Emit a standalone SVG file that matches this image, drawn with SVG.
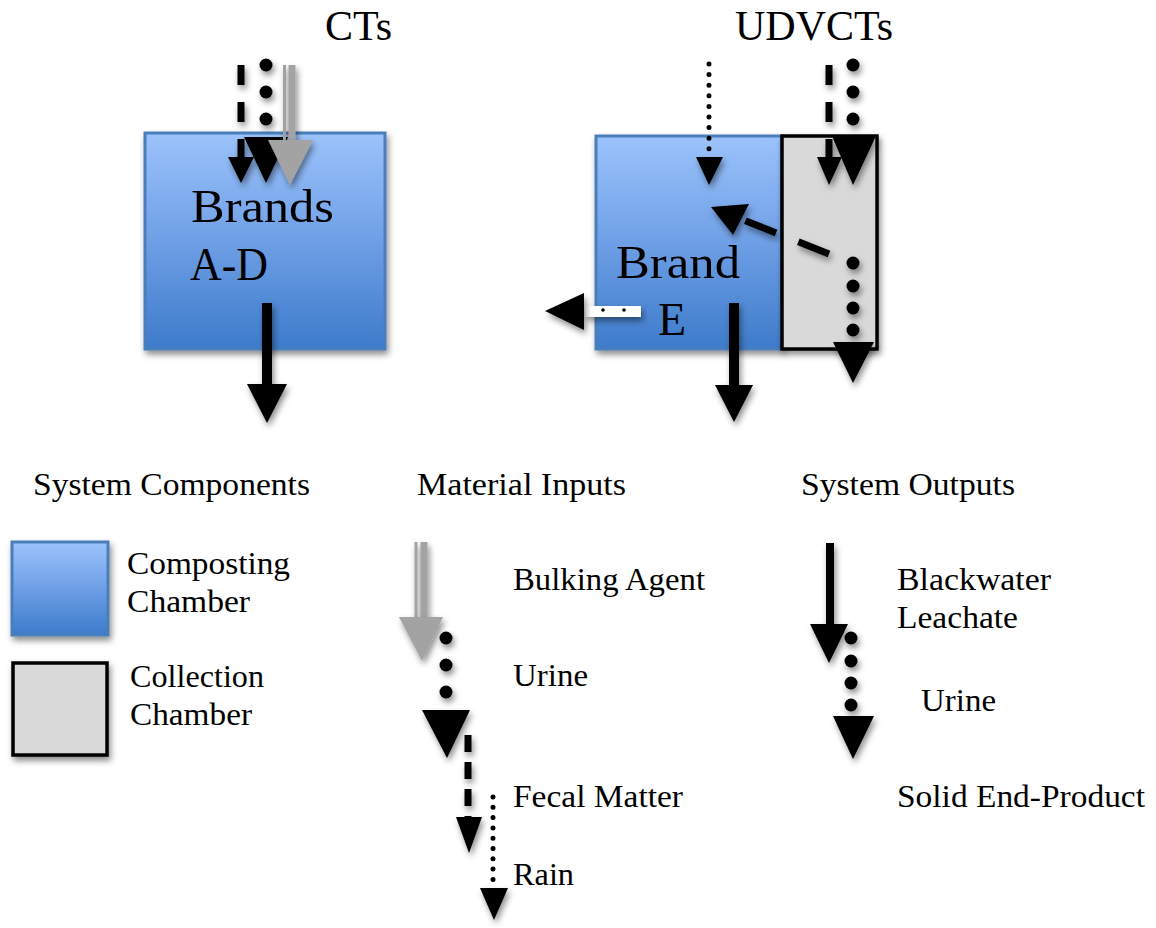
<svg xmlns="http://www.w3.org/2000/svg" width="1156" height="928" viewBox="0 0 1156 928">
<defs>
  <linearGradient id="blueGrad" x1="0" y1="0" x2="0" y2="1">
    <stop offset="0" stop-color="#9cc3fb"/>
    <stop offset="0.5" stop-color="#6e9fe6"/>
    <stop offset="1" stop-color="#3d7bca"/>
  </linearGradient>
  <filter id="shadow" filterUnits="userSpaceOnUse" x="0" y="0" width="1156" height="928">
    <feDropShadow dx="2" dy="4" stdDeviation="3" flood-color="#000" flood-opacity="0.45"/>
  </filter>
</defs>
<style>
  .title { font-family: "Liberation Serif", "Times New Roman", serif; font-size: 42px; fill: #000; }
  .big { font-family: "Liberation Serif", "Times New Roman", serif; font-size: 46px; fill: #000; }
  .lbl { font-family: "Liberation Serif", "Times New Roman", serif; font-size: 32px; fill: #000; }
  .comp { fill: url(#blueGrad); stroke: #4a7ebb; stroke-width: 3; filter: url(#shadow); }
  .coll { fill: #d9d9d9; stroke: #000; stroke-width: 3.5; filter: url(#shadow); }
  .head { fill: #000; filter: url(#shadow); }
  .ghead { fill: #a3a3a3; filter: url(#shadow); }
  .dash { stroke: #000; stroke-width: 7; fill: none; filter: url(#shadow); }
  .sdot { stroke: #000; stroke-width: 5; stroke-linecap: round; fill: none; }
  .dot { fill: #000; filter: url(#shadow); }
  .shaft { fill: #000; filter: url(#shadow); }
  .gline { stroke: #a3a3a3; fill: none; filter: url(#shadow); }
</style>

<text class="title" x="325" y="40">CTs</text>
<text class="title" x="735" y="40">UDVCTs</text>

<g id="node-ct">
  <rect class="comp" x="145" y="133" width="240" height="216"/>
  <text class="big" x="191" y="222" textLength="143" lengthAdjust="spacingAndGlyphs">Brands</text>
  <text class="big" x="190" y="280" textLength="78" lengthAdjust="spacingAndGlyphs">A-D</text>
</g>

<g id="node-udvct-compost">
  <rect class="comp" x="596" y="136" width="186" height="213"/>
  <text class="big" x="616" y="278" textLength="124" lengthAdjust="spacingAndGlyphs">Brand</text>
  <text class="big" x="658" y="335">E</text>
</g>

<g id="node-udvct-collect">
  <rect class="coll" x="782" y="136" width="95" height="213"/>
</g>

<g id="connectors">
  <!-- CT: fecal matter (dashed) -->
  <line class="dash" x1="241" y1="65" x2="241" y2="159" stroke-dasharray="20 17"/>
  <polygon class="head" points="228,157 254,157 241,183"/>
  <!-- CT: urine (big dots) -->
  <circle class="dot" cx="266" cy="65" r="6.5"/>
  <circle class="dot" cx="266" cy="92" r="6.5"/>
  <circle class="dot" cx="266" cy="119" r="6.5"/>
  <polygon class="head" points="244,137 288,137 266,183"/>
  <!-- CT: bulking agent (gray) -->
  <line class="gline" x1="284.5" y1="65" x2="284.5" y2="141" stroke-width="3"/>
  <line class="gline" x1="292" y1="65" x2="292" y2="141" stroke-width="7"/>
  <polygon class="ghead" points="268,140 313,140 290,185"/>
  <!-- CT: output -->
  <rect class="shaft" x="262" y="303" width="10" height="82"/>
  <polygon class="head" points="247,384 287,384 267,423"/>

  <!-- UDVCT: rain (small dots) -->
  <line class="sdot" x1="709" y1="64" x2="709" y2="150" stroke-dasharray="0 10.6"/>
  <polygon class="head" points="696,157 723,157 709,185"/>
  <!-- UDVCT: fecal (dashed) -->
  <line class="dash" x1="829" y1="65" x2="829" y2="159" stroke-dasharray="20 17"/>
  <polygon class="head" points="817,157 842,157 829,185"/>
  <!-- UDVCT: urine (big dots) -->
  <circle class="dot" cx="853" cy="65" r="6.5"/>
  <circle class="dot" cx="853" cy="92" r="6.5"/>
  <circle class="dot" cx="853" cy="119" r="6.5"/>
  <polygon class="head" points="832,136 876,136 853,185"/>
  <!-- UDVCT: diagonal dashed -->
  <line class="dash" x1="829" y1="254" x2="741" y2="219" stroke-width="8" stroke-dasharray="33 24"/>
  <polygon class="head" points="711,207 749,204 733,235"/>
  <!-- UDVCT: urine out (big dots) -->
  <circle class="dot" cx="853" cy="263" r="6.5"/>
  <circle class="dot" cx="853" cy="286" r="6.5"/>
  <circle class="dot" cx="853" cy="308" r="6.5"/>
  <circle class="dot" cx="853" cy="330" r="6.5"/>
  <polygon class="head" points="833,342 874,342 853,383"/>
  <!-- UDVCT: solid output -->
  <rect class="shaft" x="729" y="303" width="10" height="82"/>
  <polygon class="head" points="715,385 753,385 734,422"/>
  <!-- UDVCT: left output -->
  <rect x="585" y="306" width="56" height="11" fill="#fff" filter="url(#shadow)"/>
  <circle cx="603" cy="310" r="1.8" fill="#000"/>
  <circle cx="624" cy="310" r="1.8" fill="#000"/>
  <polygon class="head" points="545,311 584,293 584,330"/>
</g>

<g id="legend-headers">
  <text class="lbl" x="33" y="495" textLength="277" lengthAdjust="spacingAndGlyphs">System Components</text>
  <text class="lbl" x="417" y="495" textLength="209" lengthAdjust="spacingAndGlyphs">Material Inputs</text>
  <text class="lbl" x="801" y="495" textLength="214" lengthAdjust="spacingAndGlyphs">System Outputs</text>
</g>

<g id="legend-composting">
  <rect class="comp" x="12" y="542" width="96" height="93"/>
  <text class="lbl" x="127" y="574" textLength="163" lengthAdjust="spacingAndGlyphs">Composting</text>
  <text class="lbl" x="127" y="612" textLength="123" lengthAdjust="spacingAndGlyphs">Chamber</text>
</g>

<g id="legend-collection">
  <rect class="coll" x="13" y="663" width="94" height="92" stroke-width="4"/>
  <text class="lbl" x="130" y="687" textLength="134" lengthAdjust="spacingAndGlyphs">Collection</text>
  <text class="lbl" x="130" y="725" textLength="122" lengthAdjust="spacingAndGlyphs">Chamber</text>
</g>

<g id="legend-inputs">
  <line class="gline" x1="416" y1="542" x2="416" y2="618" stroke-width="3"/>
  <line class="gline" x1="424" y1="542" x2="424" y2="618" stroke-width="7"/>
  <polygon class="ghead" points="399,617 443,617 422,661"/>
  <text class="lbl" x="513" y="590" textLength="192" lengthAdjust="spacingAndGlyphs">Bulking Agent</text>

  <circle class="dot" cx="446" cy="638" r="6.5"/>
  <circle class="dot" cx="446" cy="665" r="6.5"/>
  <circle class="dot" cx="446" cy="692" r="6.5"/>
  <polygon class="head" points="422,710 470,710 447,758"/>
  <text class="lbl" x="513" y="686" textLength="75" lengthAdjust="spacingAndGlyphs">Urine</text>

  <line class="dash" x1="468" y1="735" x2="468" y2="818" stroke-width="5" stroke-dasharray="17 10"/>
  <polygon class="head" points="456,817 482,817 469,853"/>
  <text class="lbl" x="513" y="807" textLength="170" lengthAdjust="spacingAndGlyphs">Fecal Matter</text>

  <line class="sdot" x1="493" y1="797" x2="493" y2="880" stroke-width="4.5" stroke-dasharray="0 10.3"/>
  <polygon class="head" points="480,888 508,888 494,920"/>
  <text class="lbl" x="513" y="885" textLength="61" lengthAdjust="spacingAndGlyphs">Rain</text>
</g>

<g id="legend-outputs">
  <rect class="shaft" x="826" y="543" width="8" height="82"/>
  <polygon class="head" points="810,624 848,624 829,663"/>
  <text class="lbl" x="897" y="590" textLength="154" lengthAdjust="spacingAndGlyphs">Blackwater</text>
  <text class="lbl" x="897" y="628" textLength="121" lengthAdjust="spacingAndGlyphs">Leachate</text>

  <circle class="dot" cx="851" cy="638" r="6.5"/>
  <circle class="dot" cx="851" cy="661" r="6.5"/>
  <circle class="dot" cx="851" cy="683" r="6.5"/>
  <circle class="dot" cx="851" cy="705" r="6.5"/>
  <polygon class="head" points="833,716 874,716 853,759"/>
  <text class="lbl" x="921" y="711" textLength="75" lengthAdjust="spacingAndGlyphs">Urine</text>

  <text class="lbl" x="897" y="807" textLength="248" lengthAdjust="spacingAndGlyphs">Solid End-Product</text>
</g>
</svg>
